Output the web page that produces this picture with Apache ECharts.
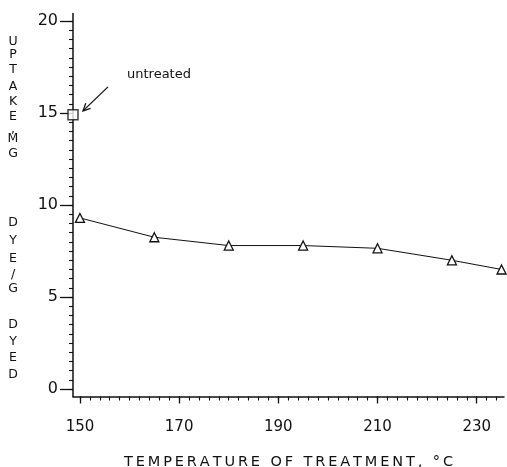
<!DOCTYPE html>
<html>
<head>
<meta charset="utf-8">
<script src="https://cdn.jsdelivr.net/npm/echarts@6/dist/echarts.min.js"></script>
<style>html,body{margin:0;padding:0;background:#fff}#c{width:507px;height:467px}</style>
</head>
<body>
<div id="c"></div>
<script>
// ---- data ----
const temps = [150, 165, 180, 195, 210, 225, 235];
const uptake = [9.3, 8.25, 7.8, 7.8, 7.65, 7.0, 6.5];
const untreatedTemp = [148.6];
const untreatedUptake = [14.9];
const xTickLabels = [150, 170, 190, 210, 230];
const yTickLabels = [0, 5, 10, 15, 20];
const xMinorTicks = [];
for (let v = 150; v <= 234; v += 2) xMinorTicks.push(v);
const yMinorTicks = [];
for (let v = 0; v <= 20; v += 0.5) yMinorTicks.push(v);
const yTitleLetters = [['U',42],['P',55],['T',70],['A',87],['K',102],['E',117],[',',130],['M',139],['G',154],
  ['D',223],['Y',241],['E',259],['/',275],['G',289],['D',325],['Y',342],['E',358],['D',375]];
const xTitle = 'TEMPERATURE OF TREATMENT, °C';

const ink = '#111';
const font = 'DejaVu Sans';
const XMIN = 148.6, XMAX = 235.5, YMIN = -0.4, YMAX = 20.4;

const chart = echarts.init(document.getElementById('c'), null, {renderer: 'canvas'});
const spaced = xTitle.split('').join('\u2009');

const option = {
  animation: false,
  backgroundColor: '#fff',
  grid: {left: 73, right: 3, top: 13.6, bottom: 70.5, containLabel: false, outerBoundsMode: 'none'},
  xAxis: [
    {type: 'value', min: XMIN, max: XMAX, position: 'bottom',
     axisLine: {show: true, onZero: false, lineStyle: {color: ink, width: 1.5}},
     axisTick: {show: true, length: 7, customValues: xTickLabels, lineStyle: {color: ink, width: 1.3}},
     axisLabel: {customValues: xTickLabels, margin: 23, color: ink, fontSize: 15, fontFamily: font},
     splitLine: {show: false},
     name: spaced, nameLocation: 'middle', nameGap: 58,
     nameTextStyle: {color: ink, fontSize: 14.5, fontFamily: font}},
    {type: 'value', min: XMIN, max: XMAX, position: 'bottom',
     axisLine: {show: false, onZero: false},
     axisTick: {show: true, length: 4, customValues: xMinorTicks, lineStyle: {color: ink, width: 1.1}},
     axisLabel: {show: false}, splitLine: {show: false}}
  ],
  yAxis: [
    {type: 'value', min: YMIN, max: YMAX, position: 'left',
     axisLine: {show: true, onZero: false, lineStyle: {color: ink, width: 1.5}},
     axisTick: {show: true, length: 13, customValues: yTickLabels, lineStyle: {color: ink, width: 1.3}},
     axisLabel: {customValues: yTickLabels, margin: 15, color: ink, fontSize: 16, fontFamily: font},
     splitLine: {show: false}},
    {type: 'value', min: YMIN, max: YMAX, position: 'left',
     axisLine: {show: false, onZero: false},
     axisTick: {show: true, length: 4, customValues: yMinorTicks, lineStyle: {color: ink, width: 1.1}},
     axisLabel: {show: false}, splitLine: {show: false}}
  ],
  series: [
    {type: 'line', xAxisIndex: 0, yAxisIndex: 0,
     data: temps.map((t, i) => [t, uptake[i]]),
     symbol: 'triangle', symbolSize: 9, clip: false,
     lineStyle: {color: ink, width: 1},
     itemStyle: {color: '#fff', borderColor: ink, borderWidth: 1.3}},
    {type: 'scatter', xAxisIndex: 0, yAxisIndex: 0,
     data: untreatedTemp.map((t, i) => [t, untreatedUptake[i]]),
     symbol: 'rect', symbolSize: 10, clip: false, z: 5,
     itemStyle: {color: '#fff', borderColor: ink, borderWidth: 1.5}}
  ]
};
chart.setOption(option);

// annotation and vertical y-title
const sq = chart.convertToPixel({xAxisIndex: 0, yAxisIndex: 0}, [untreatedTemp[0], untreatedUptake[0]]);
const ax = sq[0] + 10, ay = sq[1] - 4;
const bx = sq[0] + 35, by = sq[1] - 28;
const dx = ax - bx, dy = ay - by, L = Math.hypot(dx, dy);
const ux = dx / L, uy = dy / L, hl = 8, ang = 0.45;
function rot(x, y, a) { return [x * Math.cos(a) - y * Math.sin(a), x * Math.sin(a) + y * Math.cos(a)]; }
const h1 = rot(-ux, -uy, ang), h2 = rot(-ux, -uy, -ang);
const graphics = [
  {type: 'line', shape: {x1: bx, y1: by, x2: ax, y2: ay}, style: {stroke: ink, lineWidth: 1.3}},
  {type: 'polyline', shape: {points: [[ax + h1[0] * hl, ay + h1[1] * hl], [ax, ay], [ax + h2[0] * hl, ay + h2[1] * hl]]},
   style: {stroke: ink, lineWidth: 1.3, fill: null}},
  {type: 'text', x: sq[0] + 54, y: sq[1] - 40,
   style: {text: 'untreated', fill: ink, fontSize: 13, fontFamily: font, verticalAlign: 'middle', align: 'left'}}
];
yTitleLetters.forEach(([ch, y]) => {
  graphics.push({type: 'text', x: 13, y: y,
    style: {text: ch, fill: ink, fontSize: 12.5, fontFamily: font, align: 'center', verticalAlign: 'middle'}});
});
chart.setOption({graphic: graphics});
</script>
</body>
</html>
